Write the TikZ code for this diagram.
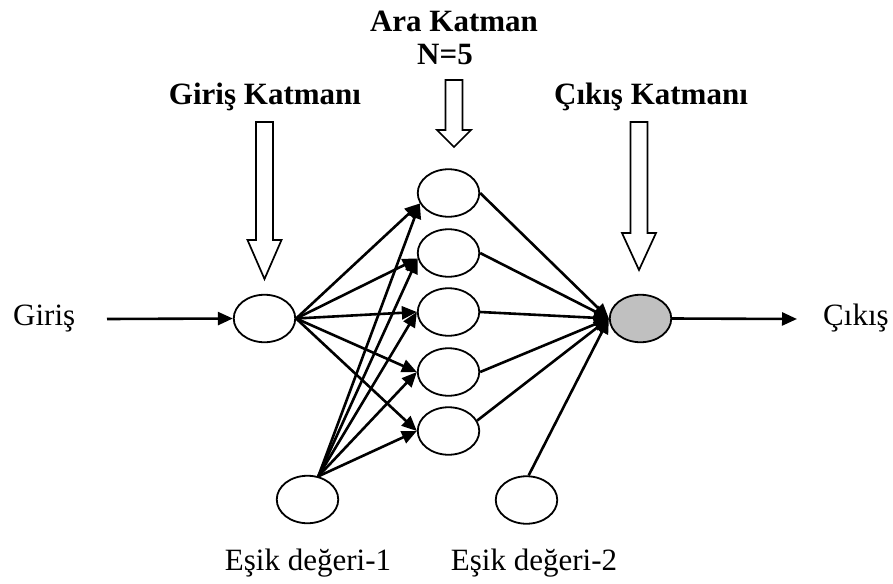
\documentclass[tikz,border=0pt]{standalone}
\usepackage{fontspec}
\setmainfont{Liberation Serif}
\usetikzlibrary{arrows.meta,shapes.geometric}
\newcommand\hollowarr[4]{\draw[hollow] (#1-8.5,#2) -- (#1+8.5,#2) -- (#1+8.5,#3) -- (#1+17,#3) -- (#1,#4) -- (#1-17,#3) -- (#1-8.5,#3) -- cycle;}
\begin{document}
\begin{tikzpicture}[x=1pt,y=-1pt,
  neuron/.style={ellipse,draw,line width=1.8pt,minimum width=61.5pt,minimum height=47.5pt,inner sep=0pt},
  edge/.style={line width=2.6pt,-{Triangle[length=15pt,width=13pt]}},
  hollow/.style={draw,line width=1.7pt,fill=white,line join=miter},
  lbl/.style={font=\fontsize{31}{37}\selectfont,inner sep=0pt,anchor=base},
  ttl/.style={font=\fontsize{31}{37}\selectfont\bfseries,inner sep=0pt,anchor=base}]
\useasboundingbox (0,0) rectangle (893,583);

% titles
\node[ttl] (tara) at (454,32) {Ara Katman};
\node[ttl] (tn) at (445,65) {N=5};
\node[ttl] (tgir) at (265,105) {Giriş Katmanı};
\node[ttl] (tcik) at (651,105) {Çıkış Katmanı};

% hollow arrows
\hollowarr{264.5}{122}{240}{279}
\hollowarr{454}{80}{130}{147}
\hollowarr{639}{122}{233}{270}

% neurons
\node[neuron] (in) at (264.5,318.5) {};
\node[neuron] (h1) at (448.5,193) {};
\node[neuron] (h2) at (448.5,253) {};
\node[neuron] (h3) at (448.5,312) {};
\node[neuron] (h4) at (448.5,372) {};
\node[neuron] (h5) at (448.5,431) {};
\node[neuron,fill={rgb,255:red,192;green,192;blue,192}] (out) at (640.5,318.5) {};
\node[neuron] (b1) at (307.5,499.5) {};
\node[neuron] (b2) at (526.5,500) {};

% labels
\node[lbl,anchor=base west] (lgir) at (13,325) {Giriş};
\node[lbl,anchor=base west] (lcik) at (823,325) {Çıkış};
\node[lbl] (le1) at (308,570) {Eşik değeri-1};
\node[lbl] (le2) at (534,570) {Eşik değeri-2};

\coordinate (a0) at (107,319);
\coordinate (a1) at (797,319);

% connectors
\draw[edge] (a0) -- (in.west);
\draw[edge] (out.east) -- (a1);
\foreach \i/\a in {1/200,2/190,3/180,4/180,5/180}{
  \draw[edge] (in.east) -- (h\i.\a);
  \draw[edge] (b1.65) -- (h\i.\a);
}
\foreach \i/\a in {1/0,2/0,3/0,4/0,5/20}{
  \draw[edge] (h\i.\a) -- (out.west);
}
\draw[edge] (b2.85) -- (out.west);
\end{tikzpicture}
\end{document}
